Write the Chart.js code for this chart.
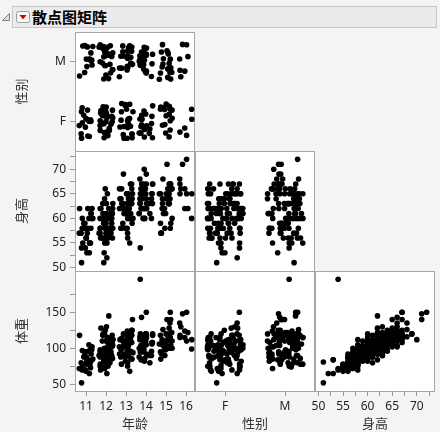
<!DOCTYPE html>
<html>
<head>
<meta charset="utf-8">
<script src="https://cdn.jsdelivr.net/npm/chart.js@4"></script>
<style>
  body { margin: 0; background: #f4f4f4; width: 440px; height: 432px; overflow: hidden; position: relative; }
  canvas { position: absolute; left: 0; top: 0; }
  #bar { position: absolute; left: 12px; top: 6px; width: 423px; height: 20px; background: #ebebeb; border: 1px solid #c6c6c6; }
  #title { position: absolute; left: 32px; top: 6px; font: bold 15px "Noto Sans CJK SC", sans-serif; color: #000; line-height: 21px; }
  #icons { position: absolute; left: 0; top: 0; }
</style>
</head>
<body>
<div id="bar"></div>
<svg id="icons" width="40" height="30">
  <polygon points="2.5,20.5 9.5,13.5 9.5,20.5" fill="#e0e0e0" stroke="#808080" stroke-width="1"/>
  <rect x="16.5" y="11.5" width="13" height="11" rx="2" fill="#f7f7f7" stroke="#9c9c9c"/>
  <polygon points="19.5,15 26.5,15 23,19.5" fill="#d40000"/>
</svg>
<div id="title">散点图矩阵</div>

<script>
// one student per entry, grouped by age
const h11 = [51,53,53,54,55,55,55,56,56,56,57,57,58,58,58,59,59,60,60,60,61,61,62,62,62,58, 55,57,60,54];
const w11 = [52,65,84,70,75,73,77,68,80,88,72,85,78,90,82,88,95,97,85,105,92,100,118,96,102,70, 78,80,98,72];
const s11 = "FFMFMFMFMFFMFMMFMFMFMFMFMF" + "MFMF";

const h12 = [51,52,53,55,55,56,56,56,56,56,57,57,57,57,57,58,58,58,58,58,59,59,59,59,60,60,60,60,60,60,61,61,61,61,62,62,62,63,63,64,65,66,
             56,57,58,59,60,61,62,63,58,56,59,60];
const w12 = [81,65,84,72,76,70,78,86,74,92,80,95,75,88,100,84,105,78,92,112,90,98,82,110,95,102,120,88,108,115,100,93,118,106,128,145,98,112,130,120,115,125,
             82,90,98,86,110,112,104,118,75,88,100,92];
const s12 = "MFFMFFMFMFMFFMFMFMFMFMFMFMFMFMFMFMFMFMFMFM" + "FMFMFMFMFMFM";

const h13 = [55,56,57,58,58,58,58,59,59,60,60,60,61,61,61,62,62,62,62,63,63,63,63,63,64,64,64,65,65,65,65,65,66,66,67,67,69,64,
             60,61,62,63,64,65,63,66];
const w13 = [68,80,75,88,82,95,78,92,85,100,90,86,105,96,88,110,98,92,104,118,100,108,95,122,112,104,125,115,106,120,110,140,118,102,112,125,120,98,
             94,100,112,104,108,124,90,114];
const s13 = "FMFMFMFMFMFMFMFMFMFMFMFMFMFMFMFMFMFMMF" + "FMFMFMFM";

const h14 = [54,60,60,60,60,61,61,62,62,62,62,63,63,63,64,64,64,65,65,65,65,65,66,66,66,67,67,67,67,68,69,70,62,61,
             62,63,64,65,66,67,63];
const w14 = [196,82,90,86,95,88,100,92,105,98,110,100,95,108,112,104,118,110,102,120,115,106,120,112,143,118,108,114,150,116,120,112,84,80,
             100,115,96,108,104,120,90];
const s14 = "MFMFMFMFMFMFMFMFMFMFMFMFMFMFMMMMFF" + "FMFMFMF";

const h15 = [57,57,58,58,59,59,60,61,61,62,62,63,63,63,64,64,64,65,65,65,66,66,66,67,67,67,67,71,
             62,64,65,66,63,65,68];
const w15 = [85,92,90,100,95,104,100,108,98,112,104,110,102,118,108,115,120,112,128,106,135,118,110,140,115,120,150,140,
             98,110,104,122,100,118,126];
const s15 = "FMFMFMFMFMFMFMFMFMFMFMFMFMFM" + "FMFMFMM";

const h16 = [60,62,65,65,66,67,68,71,72,65, 66,62];
const w16 = [99,122,112,118,130,115,135,148,150,110, 124,115];
const s16 = "FMFMMFMMMF" + "MF";

const ages = [11, 12, 13, 14, 15, 16];
const sexLabels = ["F", "M"];
const heightTicks = [50, 52.5, 55, 57.5, 60, 62.5, 65, 67.5, 70, 72.5];
const weightTicks = [50, 75, 100, 125, 150, 175];

const groups = [[h11, w11, s11], [h12, w12, s12], [h13, w13, s13], [h14, w14, s14], [h15, w15, s15], [h16, w16, s16]];

// jitter like JMP does for the age / sex columns (display offset only)
const jitter = (i, k) => {
  const v = Math.sin(i * 12.9898 + k * 78.233) * 43758.5453;
  return v - Math.floor(v) - 0.5;
};

const rows = [];
groups.forEach(([h, w, s], g) => {
  h.forEach((hv, j) => {
    const i = rows.length;
    rows.push({
      age: ages[g] + 0.7 * jitter(i, 1),
      sex: sexLabels.indexOf(s[j]) + 0.6 * jitter(i, 2),
      sexX: sexLabels.indexOf(s[j]) + 0.6 * jitter(i, 3),
      height: hv,
      weight: w[j],
    });
  });
});

const W = 440, H = 432;
const colX = [75, 195, 315, 435];
const rowY = [32, 151, 271, 391];

const tickFont = { family: "'Noto Sans', sans-serif", size: 12 };
const titleFont = { family: "'Noto Sans CJK SC', sans-serif", size: 13 };

const axes = {
  age: { min: 10.45, max: 16.45, ticks: ages, label: (v) => String(v), title: "年龄" },
  sex: { min: -0.5, max: 1.5, ticks: [0, 1], label: (v) => sexLabels[v], title: "性别" },
  height: { min: 49.3, max: 73.7, ticks: heightTicks, label: (v) => (v % 5 === 0 ? String(v) : ""), title: "身高" },
  weight: { min: 40.7, max: 207.4, ticks: weightTicks, label: (v) => (v % 50 === 0 ? String(v) : ""), title: "体重" },
};

const cellFrame = {
  id: "cellFrame",
  beforeDraw(chart) {
    const { ctx, chartArea: a } = chart;
    ctx.save();
    ctx.fillStyle = "#ffffff";
    ctx.fillRect(a.left, a.top, a.right - a.left, a.bottom - a.top);
    ctx.strokeStyle = "#a6a6a6";
    ctx.lineWidth = 1;
    ctx.strokeRect(a.left + 0.5, a.top + 0.5, a.right - a.left - 1, a.bottom - a.top);
    ctx.restore();
  },
};

function scale(def, show, horizontal, size) {
  return {
    type: "linear",
    min: def.min,
    max: def.max,
    display: show,
    afterBuildTicks: (s) => { s.ticks = def.ticks.map((v) => ({ value: v })); },
    afterFit: (s) => {
      if (!show) return;
      if (horizontal) s.height = size; else s.width = size;
      s.paddingLeft = 0; s.paddingRight = 0; s.paddingTop = 0; s.paddingBottom = 0;
    },
    ticks: {
      font: tickFont,
      color: "#222",
      padding: horizontal ? 3 : 4,
      autoSkip: false,
      maxRotation: 0,
      callback: (v) => def.label(v),
    },
    grid: { drawOnChartArea: false, tickLength: 5, color: "#9a9a9a" },
    border: { display: false },
    title: {
      display: true,
      text: def.title,
      font: titleFont,
      color: "#333",
      padding: horizontal ? { top: 0, bottom: 1 } : { top: 13, bottom: 0 },
    },
  };
}

function cell(r, c, xKey, yKey, xField, yField) {
  const canvas = document.createElement("canvas");
  canvas.width = W;
  canvas.height = H;
  document.body.appendChild(canvas);
  const hasY = c === 0;
  const hasX = r === 2;
  new Chart(canvas.getContext("2d"), {
    type: "scatter",
    data: {
      datasets: [{
        data: rows.map((d) => ({ x: d[xField], y: d[yField] })),
        pointRadius: 2.8,
        pointBorderWidth: 0,
        backgroundColor: "#000",
        borderColor: "#000",
      }],
    },
    options: {
      responsive: false,
      animation: false,
      devicePixelRatio: 1,
      layout: {
        padding: {
          left: hasY ? 0 : colX[c],
          top: rowY[r],
          right: W - colX[c + 1],
          bottom: hasX ? 0 : H - rowY[r + 1],
        },
      },
      plugins: { legend: { display: false }, tooltip: { enabled: false } },
      scales: {
        x: scale(axes[xKey], hasX, true, H - rowY[3]),
        y: scale(axes[yKey], hasY, false, colX[0]),
      },
    },
    plugins: [cellFrame],
  });
}

cell(0, 0, "age", "sex", "age", "sex");
cell(1, 0, "age", "height", "age", "height");
cell(1, 1, "sex", "height", "sexX", "height");
cell(2, 0, "age", "weight", "age", "weight");
cell(2, 1, "sex", "weight", "sexX", "weight");
cell(2, 2, "height", "weight", "height", "weight");
</script>
</body>
</html>
